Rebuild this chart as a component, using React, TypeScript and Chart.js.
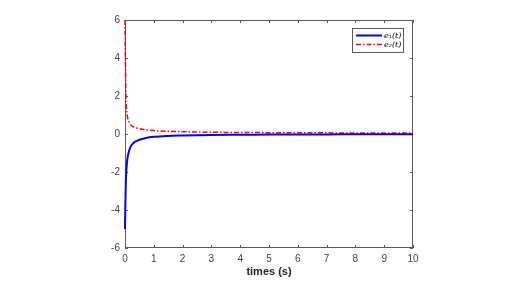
import React, { useEffect, useRef } from "react";
import { Chart, registerables } from "chart.js";

Chart.register(...registerables);

const times = [0, 0.01, 0.02, 0.03, 0.05, 0.075, 0.1, 0.15, 0.2, 0.3, 0.4, 0.5, 0.7, 1, 1.5, 2, 3, 4, 5, 6, 7, 8, 9, 10];
const e1Values = [-5, -4.0, -3.2, -2.5, -1.85, -1.4, -1.15, -0.85, -0.65, -0.47, -0.37, -0.3, -0.22, -0.15, -0.1, -0.08, -0.05, -0.04, -0.03, -0.02, -0.02, -0.01, -0.01, -0.01];
const e2Values = [6, 4.5, 3.3, 2.2, 1.4, 1.0, 0.8, 0.6, 0.48, 0.37, 0.32, 0.28, 0.23, 0.18, 0.14, 0.12, 0.09, 0.08, 0.07, 0.06, 0.06, 0.05, 0.05, 0.05];
const seriesLabels = ["e\u2081(t)", "e\u2082(t)"];
const xTicks = [0, 1, 2, 3, 4, 5, 6, 7, 8, 9, 10];
const yTicks = [-6, -4, -2, 0, 2, 4, 6];
const xTitle = "times (s)";

const AXIS_COLOR = "#5a5a5a";
const BLUE = "#0000ff";
const RED = "#ff0000";

const framePlugin = {
  id: "frameTicks",
  beforeDatasetsDraw(chart: any) {
    const { ctx, chartArea: a, scales } = chart;
    ctx.save();
    ctx.strokeStyle = AXIS_COLOR;
    ctx.lineWidth = 1;
    ctx.setLineDash([]);
    ctx.strokeRect(a.left + 0.5, a.top + 0.5, a.right - a.left - 1, a.bottom - a.top - 1);
    const tl = 3;
    ctx.beginPath();
    for (const v of xTicks) {
      const x = Math.round(scales.x.getPixelForValue(v)) + 0.5;
      ctx.moveTo(x, a.bottom);
      ctx.lineTo(x, a.bottom - tl);
      ctx.moveTo(x, a.top);
      ctx.lineTo(x, a.top + tl);
    }
    for (const v of yTicks) {
      const y = Math.round(scales.y.getPixelForValue(v)) + 0.5;
      ctx.moveTo(a.left, y);
      ctx.lineTo(a.left + tl, y);
      ctx.moveTo(a.right, y);
      ctx.lineTo(a.right - tl, y);
    }
    ctx.stroke();
    ctx.restore();
  },
  afterDatasetsDraw(chart: any) {
    const { ctx } = chart;
    ctx.save();
    const bx = 352, by = 28, bw = 51, bh = 24;
    ctx.fillStyle = "#ffffff";
    ctx.fillRect(bx, by, bw, bh);
    ctx.strokeStyle = AXIS_COLOR;
    ctx.lineWidth = 1;
    ctx.strokeRect(bx + 0.5, by + 0.5, bw, bh);
    const rows = [
      { y: 35.5, color: BLUE, dash: [], w: 2 },
      { y: 44.5, color: RED, dash: [5, 2, 1.5, 2], w: 1.5 },
    ];
    rows.forEach((r, i) => {
      ctx.beginPath();
      ctx.strokeStyle = r.color;
      ctx.lineWidth = r.w;
      ctx.setLineDash(r.dash);
      ctx.moveTo(356, r.y);
      ctx.lineTo(382, r.y);
      ctx.stroke();
      ctx.setLineDash([]);
      ctx.fillStyle = "#000000";
      ctx.font = "italic 8px 'DejaVu Serif', serif";
      ctx.textBaseline = "middle";
      ctx.textAlign = "left";
      ctx.fillText(seriesLabels[i], 384, r.y);
    });
    ctx.restore();
  },
};

export default function App() {
  const ref = useRef<HTMLCanvasElement | null>(null);
  useEffect(() => {
    if (!ref.current) return;
    const chart = new Chart(ref.current, {
      type: "line",
      data: {
        datasets: [
          {
            label: seriesLabels[0],
            data: times.map((t, i) => ({ x: t, y: e1Values[i] })),
            borderColor: BLUE,
            borderWidth: 2,
            pointRadius: 0,
            cubicInterpolationMode: "monotone",
            clip: 3,
          },
          {
            label: seriesLabels[1],
            data: times.map((t, i) => ({ x: t, y: e2Values[i] })),
            borderColor: RED,
            borderWidth: 1.5,
            borderDash: [5, 2, 1.5, 2],
            pointRadius: 0,
            cubicInterpolationMode: "monotone",
            clip: 3,
          },
        ],
      },
      options: {
        animation: false,
        responsive: false,
        maintainAspectRatio: false,
        layout: { padding: { left: 0, right: 93, top: 20, bottom: 0 } },
        plugins: { legend: { display: false }, tooltip: { enabled: false } },
        scales: {
          x: {
            type: "linear",
            min: 0,
            max: 10,
            afterFit: (s: any) => { s.height = 37; },
            afterBuildTicks: (s: any) => { s.ticks = xTicks.map((v) => ({ value: v })); },
            grid: { display: false, drawTicks: false },
            border: { display: false },
            ticks: { color: "#404040", font: { family: "'Liberation Sans', Arial, sans-serif", size: 10 }, padding: 5, maxRotation: 0 },
            title: { display: true, text: xTitle, color: "#262626", font: { family: "'Liberation Sans', Arial, sans-serif", size: 11, weight: "bold" }, padding: { top: 0, bottom: 6 } },
          },
          y: {
            type: "linear",
            min: -6,
            max: 6,
            afterFit: (s: any) => { s.width = 125; },
            afterBuildTicks: (s: any) => { s.ticks = yTicks.map((v) => ({ value: v })); },
            grid: { display: false, drawTicks: false },
            border: { display: false },
            ticks: { color: "#404040", font: { family: "'Liberation Sans', Arial, sans-serif", size: 10 }, padding: 5 },
          },
        },
      },
      plugins: [framePlugin],
    } as any);
    return () => chart.destroy();
  }, []);
  return (
    <div style={{ position: "fixed", left: 0, top: 0, width: 506, height: 285, background: "#fff" }}>
      <canvas ref={ref} width={506} height={285} style={{ width: 506, height: 285 }} />
    </div>
  );
}
